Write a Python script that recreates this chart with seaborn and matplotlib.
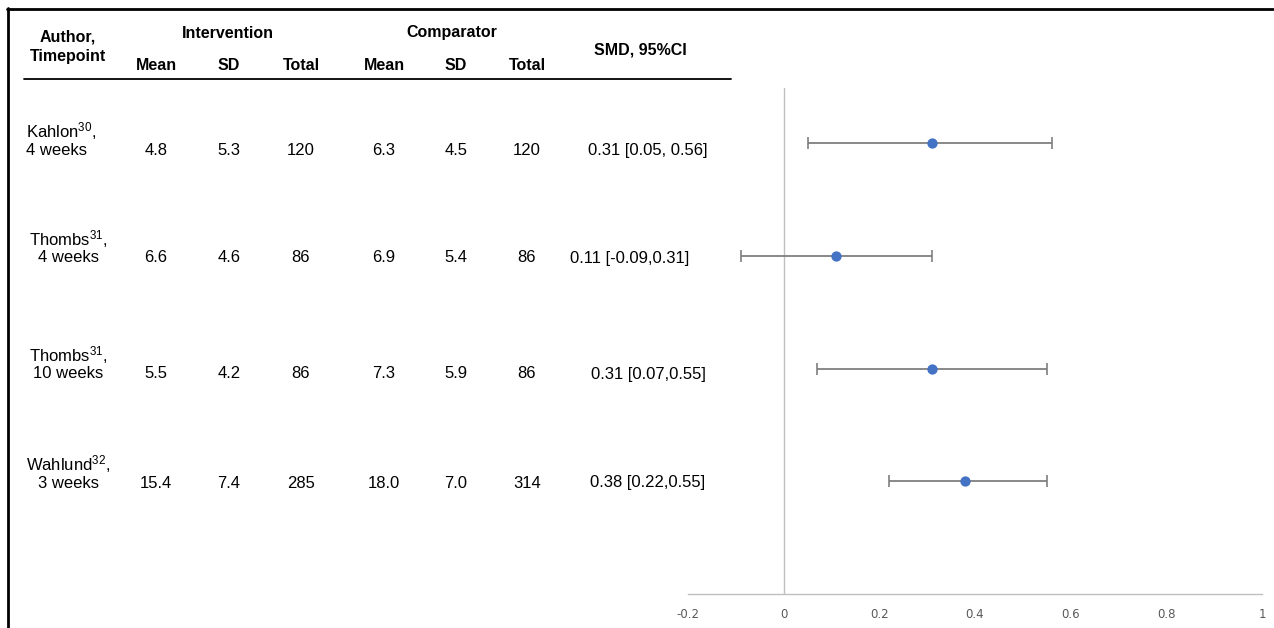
import matplotlib
matplotlib.use("Agg")
import matplotlib.pyplot as plt
import seaborn as sns
import pandas as pd

# study rows
authors = ["Kahlon$^{30}$,", "Thombs$^{31}$,", "Thombs$^{31}$,", "Wahlund$^{32}$,"]
timepoints = ["4 weeks", "4 weeks", "10 weeks", "3 weeks"]
int_mean = ["4.8", "6.6", "5.5", "15.4"]
int_sd = ["5.3", "4.6", "4.2", "7.4"]
int_n = ["120", "86", "86", "285"]
comp_mean = ["6.3", "6.9", "7.3", "18.0"]
comp_sd = ["4.5", "5.4", "5.9", "7.0"]
comp_n = ["120", "86", "86", "314"]
smd_text = ["0.31 [0.05, 0.56]", "0.11 [-0.09,0.31]", "0.31 [0.07,0.55]", "0.38 [0.22,0.55]"]
smd = [0.31, 0.11, 0.31, 0.38]
ci_low = [0.05, -0.09, 0.07, 0.22]
ci_high = [0.56, 0.31, 0.55, 0.55]
xticks = [-0.2, 0, 0.2, 0.4, 0.6, 0.8, 1]

sns.set_style("white")
plt.rcParams["font.family"] = ["Liberation Sans", "DejaVu Sans"]
plt.rcParams["mathtext.default"] = "regular"
plt.rcParams["text.color"] = "black"

W, H = 1274, 628
fig = plt.figure(figsize=(W / 100, H / 100), dpi=100)

def px(x, y):
    return x / W, 1 - y / H

# forest plot axes
ax = fig.add_axes([688 / W, (H - 594) / H, (1262 - 688) / W, (594 - 88) / H])
df = pd.DataFrame({"row": [1, 2, 3, 4], "smd": smd, "lo": ci_low, "hi": ci_high})
ax.errorbar(df["smd"], df["row"],
            xerr=[df["smd"] - df["lo"], df["hi"] - df["smd"]],
            fmt="none", ecolor="#7f7f7f", elinewidth=1.3, capsize=4, capthick=1.2, zorder=2)
sns.scatterplot(data=df, x="smd", y="row", ax=ax, color="#4472C4", s=55,
                edgecolor="#4472C4", linewidth=0, zorder=3)
ax.axvline(0, color="#bfbfbf", lw=1, zorder=1)
ax.set_xlim(-0.2, 1)
ax.set_ylim(5.0, 0.51)
ax.set_xticks(xticks)
ax.set_xticklabels([f"{t:g}" for t in xticks], fontsize=8.5, color="#595959",
                   family=["DejaVu Sans"])
ax.tick_params(axis="x", length=0, pad=10)
ax.set_yticks([])
ax.set_xlabel("")
ax.set_ylabel("")
for s in ["top", "left", "right"]:
    ax.spines[s].set_visible(False)
ax.spines["bottom"].set_color("#bfbfbf")
ax.spines["bottom"].set_linewidth(1)

# outer border lines (top and left)
fig.add_artist(plt.Line2D([7 / W, 1273 / W], [1 - 8.5 / H, 1 - 8.5 / H], color="black", lw=2))
fig.add_artist(plt.Line2D([7.5 / W, 7.5 / W], [1 - 8 / H, 0], color="black", lw=2))

# header
hdr = dict(fontsize=11.5, fontweight="bold", ha="center", va="center",
           family=["Liberation Sans Narrow", "Liberation Sans"])
fig.text(*px(68, 37), "Author,", **hdr)
fig.text(*px(68, 56), "Timepoint", **hdr)
fig.text(*px(228, 33), "Intervention", **hdr)
fig.text(*px(452, 33), "Comparator", **hdr)
fig.text(*px(640, 50), "SMD, 95%CI", **hdr)
col_x = [156, 229, 301, 384, 456, 527]
for x, lab in zip(col_x, ["Mean", "SD", "Total", "Mean", "SD", "Total"]):
    fig.text(*px(x, 66), lab, **hdr)
fig.add_artist(plt.Line2D([24 / W, 731 / W], [1 - 79 / H, 1 - 79 / H], color="black", lw=1.3))

# table rows
text_y = [150, 258, 374, 483]
smd_x = [648, 630, 648, 648]
cell = dict(fontsize=12, ha="center", va="center")
for i, y in enumerate(text_y):
    if i == 0:
        fig.text(*px(26, y - 19), authors[i], fontsize=12, ha="left", va="center")
        fig.text(*px(26, y), timepoints[i], fontsize=12, ha="left", va="center")
    else:
        fig.text(*px(68, y - 19), authors[i], **cell)
        fig.text(*px(68, y), timepoints[i], **cell)
    vals = [int_mean[i], int_sd[i], int_n[i], comp_mean[i], comp_sd[i], comp_n[i]]
    for x, v in zip(col_x, vals):
        fig.text(*px(x, y), v, **cell)
    fig.text(*px(smd_x[i], y), smd_text[i], **cell)

fig.savefig("out.png", dpi=100)
